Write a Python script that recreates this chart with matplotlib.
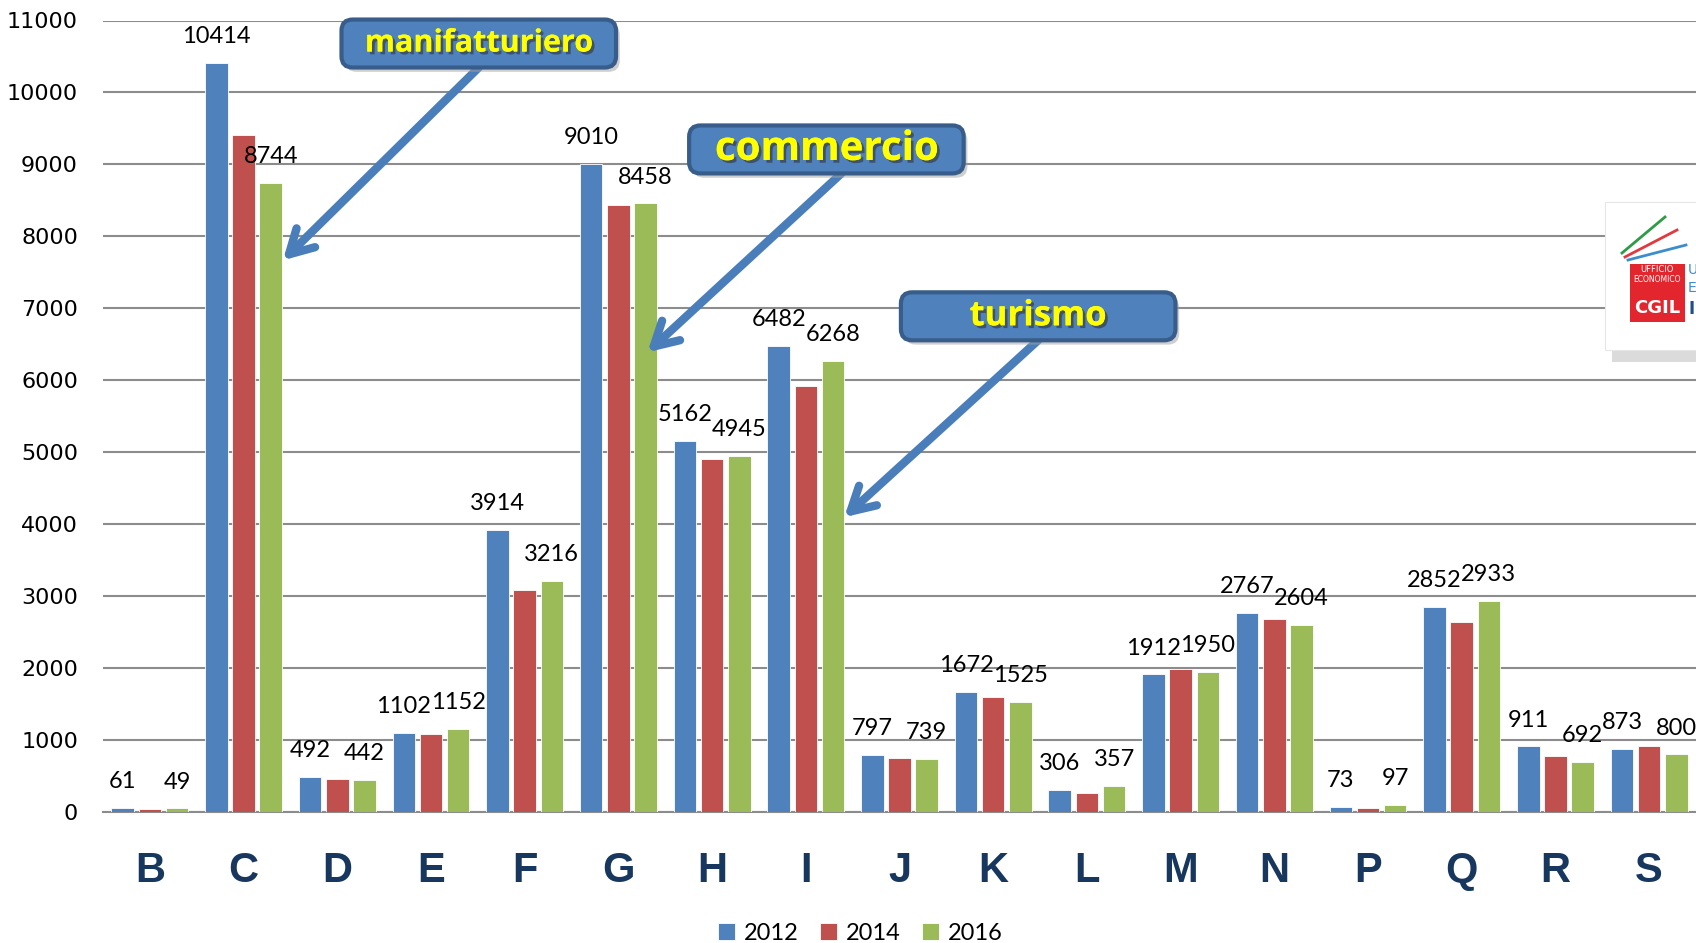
import numpy as np
import matplotlib.pyplot as plt
from matplotlib.patches import FancyBboxPatch, Rectangle
import matplotlib.patheffects as pe

# Data
categories = ["B", "C", "D", "E", "F", "G", "H", "I", "J", "K", "L", "M", "N", "P", "Q", "R", "S"]
v2012 = [61, 10414, 492, 1102, 3914, 9010, 5162, 6482, 797, 1672, 306, 1912, 2767, 73, 2852, 911, 873]
v2014 = [40, 9410, 455, 1080, 3080, 8430, 4905, 5925, 750, 1600, 258, 1985, 2685, 60, 2635, 785, 915]
v2016 = [49, 8744, 442, 1152, 3216, 8458, 4945, 6268, 739, 1525, 357, 1950, 2604, 97, 2933, 692, 800]
years = ["2012", "2014", "2016"]

blue = "#4F81BD"
red = "#C0504D"
green = "#9BBB59"
navy = "#17375E"

W, H = 1696, 943
fig = plt.figure(figsize=(W / 100, H / 100), dpi=100)
ax = fig.add_axes([103 / W, 1 - 812 / H, 1 - 103 / W, (812 - 20.5) / H])

x = np.arange(len(categories))
bw = 0.24
step = 0.29
b1 = ax.bar(x - step, v2012, bw, color=blue, edgecolor="white", linewidth=0.6, label=years[0], zorder=3)
b2 = ax.bar(x, v2014, bw, color=red, edgecolor="white", linewidth=0.6, label=years[1], zorder=3)
b3 = ax.bar(x + step, v2016, bw, color=green, edgecolor="white", linewidth=0.6, label=years[2], zorder=3)

# value labels only for 2012 and 2016
for bars, vals in [(b1, v2012), (b3, v2016)]:
    for rect, v in zip(bars, vals):
        ax.annotate(str(v), (rect.get_x() + rect.get_width() / 2, v),
                    xytext=(0, 19), textcoords="offset points",
                    ha="center", va="center", fontsize=17, family="Lato", zorder=5)

ax.set_xlim(-0.5, len(categories) - 0.5)
ax.set_ylim(0, 11000)
ax.set_yticks(np.arange(0, 11001, 1000))
ax.set_yticklabels([str(v) for v in range(0, 11001, 1000)], fontsize=16, family="DejaVu Sans")
ax.tick_params(axis="y", length=0, pad=18)
ax.set_xticks(x)
ax.set_xticklabels(categories, fontsize=30, fontweight="bold", color=navy, family="Liberation Sans")
ax.tick_params(axis="x", length=0, pad=28)
ax.grid(axis="y", color="#8C8C8C", linewidth=1.5, zorder=0)
for s in ["top", "right", "left"]:
    ax.spines[s].set_visible(False)
ax.spines["bottom"].set_color("#8C8C8C")
ax.spines["bottom"].set_linewidth(1.5)

fig.legend(handles=[b1, b2, b3], labels=years, loc="center", bbox_to_anchor=(860 / W, 1 - 933 / H),
           ncol=3, frameon=False, prop={"family": "Lato", "size": 17},
           handlelength=0.75, handleheight=0.75, handletextpad=0.35, columnspacing=0.9)

# call-out boxes with arrows (data coords)
mut = (1000 / 72) * (93.7)
callouts = [
    ("manifatturiero", 3.51, 10680, 22, (3.51, 10347), (1.42, 7667)),
    ("commercio", 7.22, 9208, 29, (7.38, 8875), (5.31, 6389)),
    ("turismo", 9.48, 6889, 25, (9.48, 6556), (7.41, 4097)),
]
box_w = 2.93
box_h = 48 * 1000 / 72
for txt, cx, cy, fs, tail, tip in callouts:
    ax.annotate("", xy=tip, xytext=tail,
                arrowprops=dict(arrowstyle="->,head_length=1.7,head_width=0.95", color="#4A7EBB",
                                lw=6, capstyle="round", joinstyle="round", shrinkA=0, shrinkB=0),
                zorder=6)
    shadow = FancyBboxPatch((cx - box_w / 2 + 0.04, cy - box_h / 2 - 60), box_w, box_h,
                            boxstyle="round,pad=0,rounding_size=0.12", mutation_aspect=mut,
                            facecolor="#A0A0A0", edgecolor="none", alpha=0.5, zorder=6.5, clip_on=False)
    ax.add_patch(shadow)
    box = FancyBboxPatch((cx - box_w / 2, cy - box_h / 2), box_w, box_h,
                         boxstyle="round,pad=0,rounding_size=0.12", mutation_aspect=mut,
                         facecolor=blue, edgecolor="#385D8A", linewidth=3, zorder=7, clip_on=False)
    ax.add_patch(box)
    t = ax.text(cx, cy, txt, ha="center", va="center", fontsize=fs, fontweight="bold",
                color="#FFFF00", family="Open Sans", zorder=8)
    t.set_path_effects([pe.withSimplePatchShadow(offset=(2, -2), shadow_rgbFace="#333333", alpha=0.6), pe.Normal()])


# logo at the right edge (figure pixel coords)
def fx(px):
    return px / W


def fy(py):
    return 1 - py / H


fig.patches.append(Rectangle((fx(1612), fy(362)), fx(90), 150 / H, transform=fig.transFigure,
                             facecolor="#B8B8B8", edgecolor="none", alpha=0.5, zorder=9))
fig.patches.append(Rectangle((fx(1605), fy(350)), fx(95), 148 / H, transform=fig.transFigure,
                             facecolor="white", edgecolor="#E6E6E6", linewidth=0.8, zorder=10))
for (x0, y0, x1, y1, c) in [(1622, 253, 1665, 217, "#2E9B46"), (1625, 257, 1677, 230, "#E03A3E"),
                            (1628, 260, 1686, 245, "#3C8DCB")]:
    fig.add_artist(plt.Line2D([fx(x0), fx(x1)], [fy(y0), fy(y1)], transform=fig.transFigure,
                              color=c, linewidth=2, zorder=11))
fig.patches.append(Rectangle((fx(1630), fy(322)), fx(55), 58 / H, transform=fig.transFigure,
                             facecolor="#E3262D", edgecolor="none", zorder=11))
fig.text(fx(1657), fy(270), "UFFICIO", fontsize=6, color="white", ha="center", va="center", zorder=12)
fig.text(fx(1657), fy(280), "ECONOMICO", fontsize=5.5, color="white", ha="center", va="center", zorder=12)
fig.text(fx(1657), fy(308), "CGIL", fontsize=13, color="white", ha="center", va="center",
         fontweight="bold", zorder=12)
fig.text(fx(1688), fy(270), "U", fontsize=10, color="#3C8DCB", ha="left", va="center", zorder=12)
fig.text(fx(1688), fy(288), "E", fontsize=10, color="#3C8DCB", ha="left", va="center", zorder=12)
fig.text(fx(1688), fy(309), "I", fontsize=12, color="#1F4E8C", ha="left", va="center",
         fontweight="bold", zorder=12)

fig.savefig("out.png", dpi=100)
